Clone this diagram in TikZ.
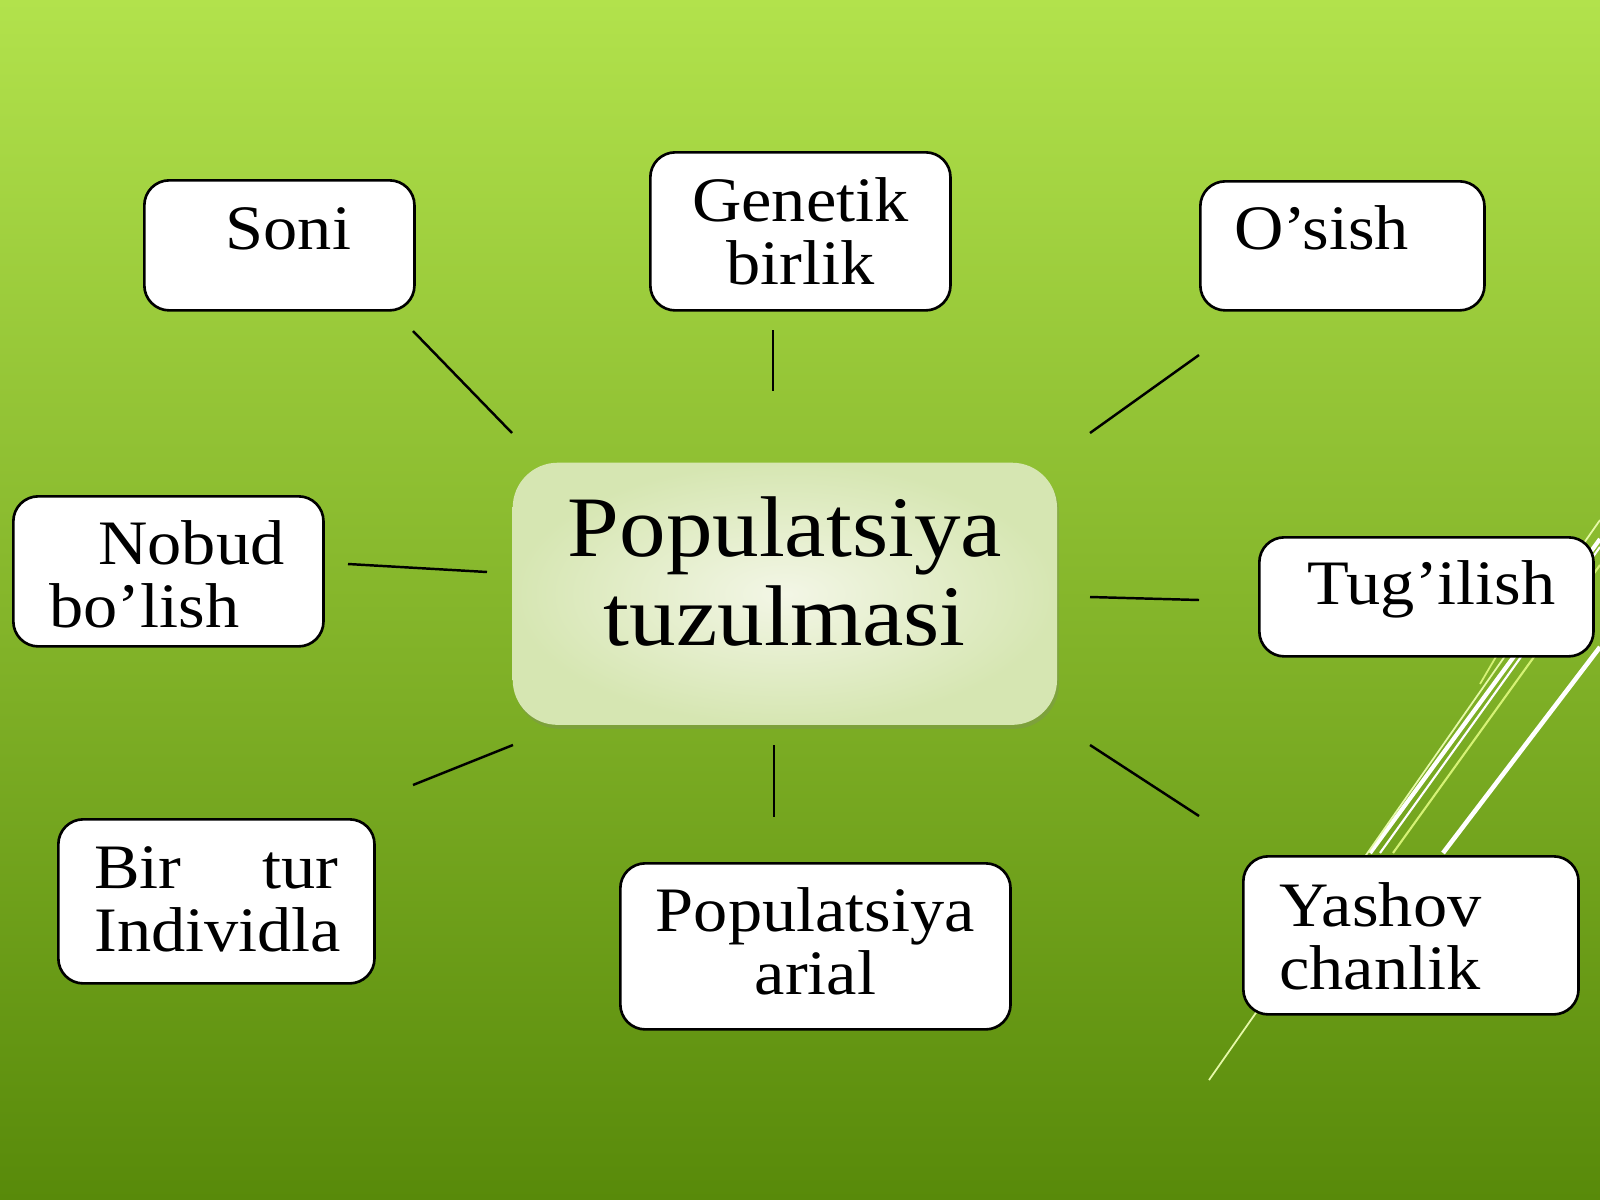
\documentclass[tikz,border=0pt]{standalone}
\usepackage{fontspec}
\setmainfont[FakeStretch=1.08]{Liberation Serif}
\usetikzlibrary{shadows}
\definecolor{bgtop}{HTML}{B2E24C}
\definecolor{bgmid}{HTML}{8ABF2E}
\definecolor{bgbot}{HTML}{588A0A}
\definecolor{hubin}{HTML}{F3F6E6}
\definecolor{hubout}{HTML}{D6E6B2}
\definecolor{stripegreen}{HTML}{D6F275}
\definecolor{stripepale}{HTML}{E6F9A8}

\begin{document}
\begin{tikzpicture}[x=0.01cm, y=-0.01cm,
  leaf/.style={draw=black, line width=0.75pt, fill=white, rounded corners=0.25cm,
    anchor=north west, inner ysep=0pt, font=\fontsize{18pt}{18pt}\selectfont},
  hub/.style={shade, inner color=hubin, outer color=hubout, rounded corners=0.45cm,
    anchor=north west, inner ysep=0pt, inner xsep=0.1cm, align=center,
    drop shadow={opacity=0.25, shadow xshift=0.02cm, shadow yshift=-0.04cm},
    font=\fontsize{24.5pt}{25.3pt}\selectfont},
  link/.style={black, line width=0.7pt},
  stripe/.style={white, line width=1.2pt}]

% background
\shade[top color=bgtop, middle color=bgmid, bottom color=bgbot] (0,0) rectangle (1600,1200);
\useasboundingbox (0,0) rectangle (1600,1200);

% stripes on the right
\draw[stripe] (1600,539) -- (1370,853);
\draw[white, line width=0.6pt] (1600,547) -- (1380,853);
\draw[stripegreen, line width=0.6pt] (1600,565) -- (1393,853);
\draw[stripe, line width=1.3pt] (1600,647) -- (1443,853);
\draw[stripepale, line width=0.5pt] (1600,520) -- (1209,1080);
\draw[stripegreen, line width=0.5pt] (1497,655) -- (1480,684);

% boxes
\node[leaf, text width=2.5cm, inner xsep=0.1cm, text height=0.69cm, text depth=0.61cm,
  align=center] (soni) at (143,179) {\hspace*{0.18cm}Soni};
\node[leaf, text width=2.8cm, inner xsep=0.1cm, text height=0.69cm, text depth=0.89cm,
  align=center] (genetik) at (649,151) {Genetik\\birlik};
\node[leaf, text width=2.16cm, inner xsep=0.34cm, text height=0.68cm, text depth=0.61cm,
  align=left] (osish) at (1199,180) {O’sish};
\node[leaf, text width=2.38cm, inner xsep=0.36cm, text height=0.68cm, text depth=0.82cm,
  align=left] (nobud) at (12,495) {\hspace*{0.49cm}Nobud\\bo’lish};
\node[leaf, text width=3.14cm, inner xsep=0.1cm, text height=0.67cm, text depth=0.52cm,
  align=center] (tugilish) at (1258,536) {\hspace*{0.1cm}Tug’ilish};
\node[leaf, text width=2.44cm, inner xsep=0.36cm, text height=0.69cm, text depth=0.95cm,
  align=left] (birtur) at (57,818) {Bir\hfill tur\\Individla};
\node[leaf, text width=3.7cm, inner xsep=0.1cm, text height=0.68cm, text depth=0.98cm,
  align=center] (arial) at (619,862) {Populatsiya\\arial};
\node[leaf, text width=2.63cm, inner xsep=0.36cm, text height=0.70cm, text depth=0.88cm,
  align=left] (yashov) at (1242,855) {Yashov\\chanlik};

\node[hub, text width=5.24cm, text height=0.94cm, text depth=1.68cm] (hub) at (512,462)
  {Populatsiya\\tuzulmasi};

% links
\foreach \n/\xa/\ya/\xb/\yb in {1/413/331/512/433, 2/773/330/773/391, 3/1199/355/1090/433,
  4/348/564/487/572, 5/1090/597/1199/600, 6/413/785/513/745, 7/774/745/774/817,
  8/1090/745/1199/816}
{
\coordinate (A\n) at (\xa,\ya);
\coordinate (B\n) at (\xb,\yb);
\draw[link] (A\n) -- (B\n);
}

\end{tikzpicture}
\end{document}
